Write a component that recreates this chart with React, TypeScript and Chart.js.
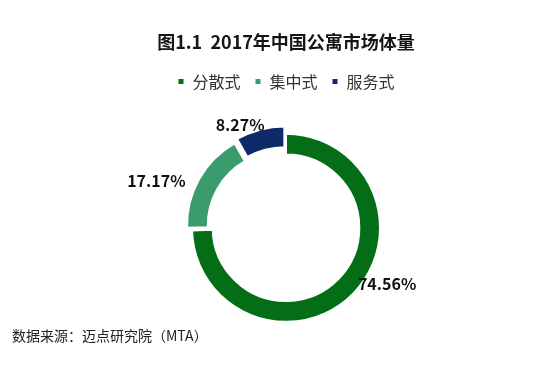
import React, { useEffect, useRef } from "react";
import { Chart, registerables } from "chart.js";

Chart.register(...registerables);

const titleText = "图1.1  2017年中国公寓市场体量";
const sourceText = "数据来源：迈点研究院（MTA）";
const categories = ["分散式", "集中式", "服务式"];
const shares = [74.56, 17.17, 8.27];
const colors = ["#046E17", "#3A9C6C", "#0F2A69"];

const CJK = "'Noto Sans CJK SC', 'Noto Sans', sans-serif";

const labelPlugin = {
  id: "pctLabels",
  afterDatasetsDraw(chart: any) {
    const cfg = chart.options.plugins.pctLabels;
    const meta = chart.getDatasetMeta(0);
    const ctx = chart.ctx;
    ctx.save();
    ctx.font = `bold 16px ${CJK}`;
    ctx.fillStyle = "#111";
    ctx.textAlign = "center";
    ctx.textBaseline = "middle";
    meta.data.forEach((arc: any, i: number) => {
      const p = arc.getProps(["x", "y", "startAngle", "endAngle", "outerRadius"], true);
      const a = p.startAngle + cfg.frac[i] * (p.endAngle - p.startAngle);
      const r = p.outerRadius + cfg.gap[i];
      const v = chart.data.datasets[0].data[i];
      ctx.fillText(v.toFixed(2) + "%", p.x + Math.cos(a) * r, p.y + Math.sin(a) * r);
    });
    ctx.restore();
  },
};

const sourcePlugin = {
  id: "sourceNote",
  afterDraw(chart: any) {
    const ctx = chart.ctx;
    ctx.save();
    ctx.font = `14px ${CJK}`;
    ctx.fillStyle = "#222";
    ctx.textAlign = "left";
    ctx.textBaseline = "middle";
    ctx.fillText(sourceText, 12, chart.height - 48);
    ctx.restore();
  },
};

export default function App() {
  const ref = useRef<HTMLCanvasElement | null>(null);
  useEffect(() => {
    if (!ref.current) return;
    const chart = new Chart(ref.current, {
      type: "doughnut",
      data: {
        labels: categories,
        datasets: [
          {
            data: shares,
            backgroundColor: colors,
            borderColor: "#ffffff",
            borderWidth: 2,
            offset: [0, 20, 20],
            hoverOffset: 0,
          },
        ],
      },
      options: {
        animation: false,
        responsive: false,
        radius: 94,
        cutout: "78%",
        layout: { padding: { left: 29, right: 0, top: 0, bottom: 28 } },
        plugins: {
          title: {
            display: true,
            text: titleText,
            color: "#151515",
            font: { family: CJK, size: 18, weight: "bold" },
            padding: { top: 31, bottom: 7 },
          },
          legend: {
            display: true,
            position: "top",
            labels: {
              boxWidth: 7,
              boxHeight: 7,
              padding: 14,
              color: "#333",
              font: { family: CJK, size: 16 },
            },
          },
          tooltip: { enabled: false },
          pctLabels: { frac: [0.443, 0.35, 0.195], gap: [21.5, 44, 19] },
        } as any,
      },
      plugins: [labelPlugin, sourcePlugin],
    });
    return () => chart.destroy();
  }, []);
  return (
    <div style={{ position: "fixed", left: 0, top: 0, width: 543, height: 384, background: "#fff" }}>
      <canvas ref={ref} width={543} height={384} style={{ width: 543, height: 384 }} />
    </div>
  );
}
